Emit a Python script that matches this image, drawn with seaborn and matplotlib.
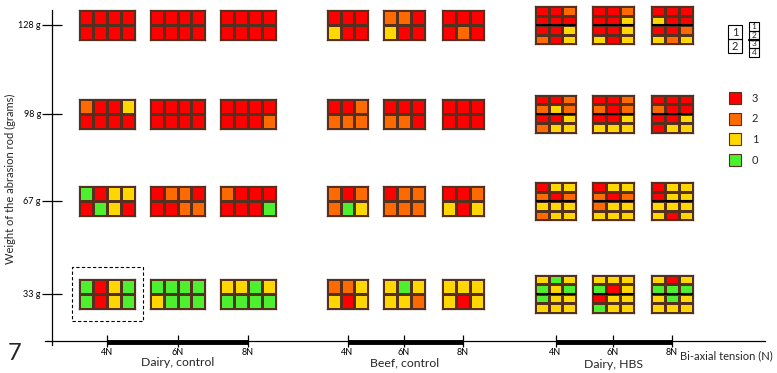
import numpy as np
import seaborn as sns
import matplotlib.pyplot as plt
from matplotlib.colors import ListedColormap
from matplotlib.patches import Rectangle

# =========================
# data: scores 0-3 per sample cell, rows top->bottom
# =========================

weights = [128, 98, 67, 33]
weight_labels = ["128 g", "98 g", "67 g", "33 g"]
tensions = ["4N", "6N", "8N"]
group_names = ["Dairy, control", "Beef, control", "Dairy, HBS"]
score_levels = [3, 2, 1, 0]
# colours for score 0, 1, 2, 3
score_colors = ["#4cf02e", "#ffd700", "#ff6a00", "#ff0000"]

# [weight][tension] -> rows
dairy_control = [
    [[[3, 3, 3, 3], [3, 3, 3, 3]], [[3, 3, 3, 3], [3, 3, 3, 3]], [[3, 3, 3, 3], [3, 3, 3, 3]]],
    [[[2, 3, 3, 1], [3, 3, 3, 3]], [[3, 3, 3, 3], [3, 3, 3, 3]], [[3, 3, 3, 3], [3, 3, 3, 2]]],
    [[[0, 3, 1, 1], [3, 0, 1, 3]], [[3, 2, 2, 3], [3, 3, 2, 2]], [[2, 3, 3, 3], [3, 3, 3, 0]]],
    [[[0, 3, 1, 0], [0, 3, 1, 0]], [[0, 0, 0, 0], [1, 0, 0, 0]], [[1, 1, 0, 1], [0, 0, 0, 0]]],
]
beef_control = [
    [[[3, 3, 3], [1, 3, 3]], [[2, 2, 3], [1, 3, 3]], [[3, 3, 3], [3, 2, 3]]],
    [[[3, 3, 2], [2, 2, 2]], [[3, 3, 3], [2, 2, 3]], [[3, 3, 3], [3, 3, 3]]],
    [[[2, 3, 2], [2, 0, 1]], [[3, 2, 2], [2, 2, 2]], [[3, 3, 2], [1, 3, 1]]],
    [[[2, 2, 1], [1, 3, 1]], [[1, 0, 1], [1, 1, 2]], [[1, 1, 1], [1, 3, 1]]],
]
dairy_hbs = [
    [[[3, 3, 2], [3, 3, 3], [3, 3, 1], [2, 3, 1]],
     [[3, 3, 2], [3, 3, 1], [3, 3, 1], [1, 3, 1]],
     [[3, 3, 3], [1, 3, 3], [3, 3, 2], [1, 2, 1]]],
    [[[3, 3, 2], [2, 1, 2], [3, 3, 1], [2, 1, 1]],
     [[3, 3, 2], [2, 3, 2], [3, 3, 1], [1, 1, 1]],
     [[3, 3, 3], [2, 3, 3], [3, 3, 1], [3, 1, 1]]],
    [[[3, 1, 1], [2, 3, 2], [1, 1, 1], [2, 1, 1]],
     [[3, 1, 1], [2, 3, 2], [2, 1, 1], [1, 1, 1]],
     [[3, 1, 1], [3, 1, 1], [1, 1, 1], [1, 3, 1]]],
    [[[1, 0, 1], [0, 1, 0], [0, 1, 1], [1, 1, 1]],
     [[1, 1, 1], [0, 3, 1], [3, 1, 1], [0, 1, 1]],
     [[1, 3, 1], [0, 0, 0], [1, 0, 1], [1, 1, 1]]],
]
groups = [dairy_control, beef_control, dairy_hbs]

# =========================
# layout (pixel-like units, y measured upward)
# =========================
FIG_W, FIG_H = 777, 373
AX_X0, AX_X1 = 52, 765
AX_Y0, AX_Y1 = 32, 363
ROW_Y = [348, 259.5, 172, 79.5]
GROUP_X = [[107, 177.5, 248], [347.5, 404, 463], [555.5, 613, 672]]
CELL_W = 13.8
CELL_H = {2: 15.0, 4: 9.5}
EDGE = "#56301f"

sns.set_theme(style="white")
plt.rcParams["font.family"] = ["Lato", "DejaVu Sans"]

fig = plt.figure(figsize=(FIG_W / 100, FIG_H / 100), dpi=100)
ax = fig.add_axes([AX_X0 / FIG_W, AX_Y0 / FIG_H,
                   (AX_X1 - AX_X0) / FIG_W, (AX_Y1 - AX_Y0) / FIG_H])
ax.set_xlim(AX_X0, AX_X1)
ax.set_ylim(AX_Y0, AX_Y1)
for side in ["top", "right"]:
    ax.spines[side].set_visible(False)
ax.spines["left"].set_bounds(28, AX_Y1)
ax.spines["bottom"].set_bounds(45, AX_X1)
for side in ["left", "bottom"]:
    ax.spines[side].set_color("black")
    ax.spines[side].set_linewidth(0.9)

xt = [x for gx in GROUP_X for x in gx]
ax.set_xticks(xt, tensions * len(GROUP_X))
ax.set_yticks(ROW_Y, weight_labels)
ax.tick_params(axis="x", direction="inout", length=8, width=0.9, pad=1,
               labelsize=6.5, colors="black")
ax.tick_params(axis="y", direction="inout", length=14, width=0.9, pad=1,
               labelsize=6.5, colors="black")
ax.tick_params(bottom=True, left=True)

cmap = ListedColormap(score_colors)

for g, data in enumerate(groups):
    for i in range(len(weights)):
        for j in range(len(tensions)):
            arr = np.array(data[i][j])
            nr, nc = arr.shape
            w, h = nc * CELL_W, nr * CELL_H[nr]
            iax = ax.inset_axes([GROUP_X[g][j] - w / 2, ROW_Y[i] - h / 2, w, h],
                                transform=ax.transData)
            sns.heatmap(arr, ax=iax, cmap=cmap, vmin=-0.5, vmax=3.5, cbar=False,
                        linewidths=0.9, linecolor=EDGE,
                        xticklabels=False, yticklabels=False)
            for sp in iax.spines.values():
                sp.set_visible(True)
                sp.set_color(EDGE)
                sp.set_linewidth(0.9)
            if nr == 4:
                iax.axhline(2, color="black", lw=1.5)

    # thick bar under each group's tension range
    ax.plot([GROUP_X[g][0], GROUP_X[g][-1]], [AX_Y0 - 1.2] * 2, color="black",
            lw=3.5, solid_capstyle="butt", clip_on=False, zorder=4)

label_y = [11, 10, 8]
for g, name in enumerate(group_names):
    ax.text(np.mean(GROUP_X[g][:3]) if g < 2 else GROUP_X[g][1], label_y[g], name,
            ha="center", va="center", fontsize=8.8)

ax.text(680, 17, "Bi-axial tension (N)", ha="left", va="center", fontsize=8)
ax.text(15, 19, "7", ha="center", va="center", fontsize=17)
ax.text(10, 194, "Weight of the abrasion rod (grams)", rotation=90,
        ha="center", va="center", fontsize=8)

# dashed box around the dairy 33 g / 4N sample
ax.add_patch(Rectangle((72, 52), 71, 54, fill=False, ls=(0, (3, 2)), lw=0.8,
                       edgecolor="black", clip_on=False))

# schematic legend of cell numbering
for k, lab in enumerate(["1", "2"]):
    y0 = 348 - (k + 1) * 14
    ax.add_patch(Rectangle((728, y0), 14, 14, fill=False, lw=0.8,
                           edgecolor="black", clip_on=False))
    ax.text(735, y0 + 7, lab, ha="center", va="center", fontsize=8)
for k, lab in enumerate(["1", "2", "3", "4"]):
    y0 = 351 - (k + 1) * 8.75
    ax.add_patch(Rectangle((749, y0), 10, 8.75, fill=False, lw=0.8,
                           edgecolor="black", clip_on=False))
    ax.text(754, y0 + 4.4, lab, ha="center", va="center", fontsize=6)
ax.plot([749, 759], [333.5, 333.5], color="black", lw=1.6, clip_on=False)

# colour legend
for k, s in enumerate(score_levels):
    yc = 275 - k * 20.7
    ax.add_patch(Rectangle((729, yc - 6), 12, 12, facecolor=score_colors[s],
                           edgecolor=EDGE, lw=0.8, clip_on=False))
    ax.text(752, yc, str(s), ha="left", va="center", fontsize=8)

fig.savefig("out.png", dpi=100)
plt.close(fig)
